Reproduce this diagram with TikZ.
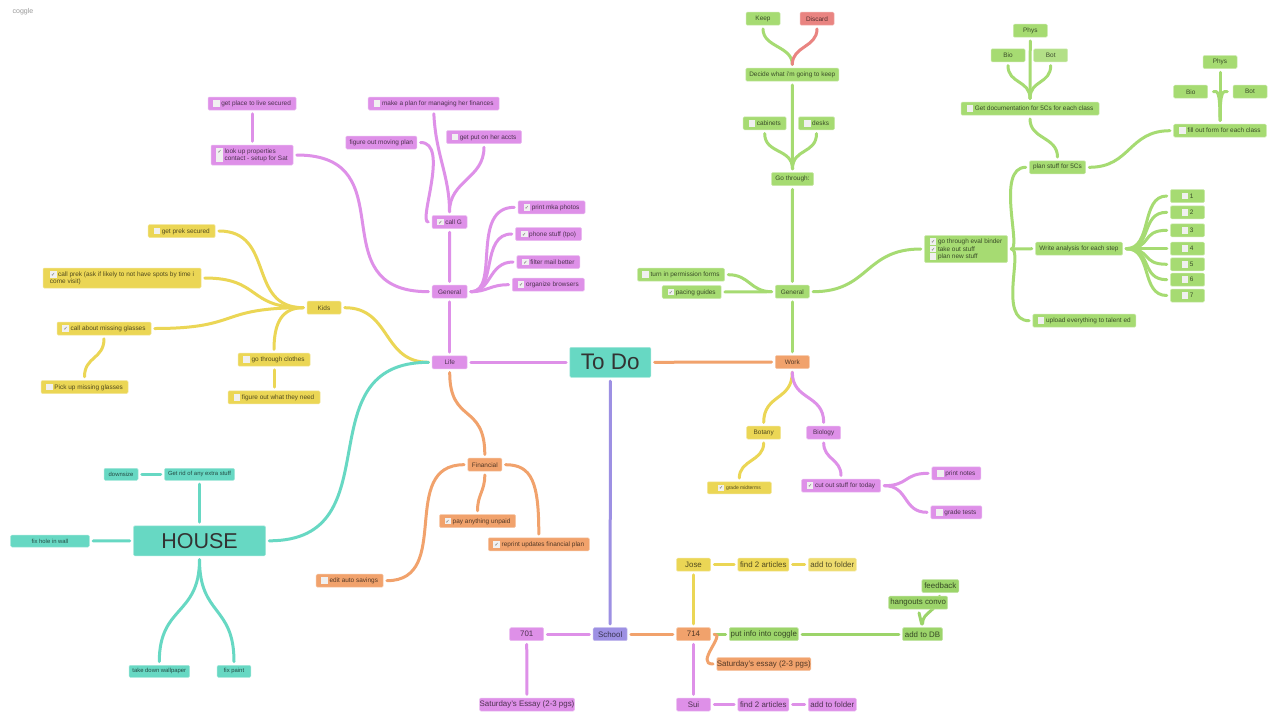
\documentclass[tikz,border=0pt]{standalone}
\usepackage{fontspec}
\setmainfont{Liberation Sans}
\newfontfamily\djv{DejaVu Sans}
\usetikzlibrary{backgrounds}
\definecolor{pur}{HTML}{DE90E8}
\definecolor{yel}{HTML}{EBD655}
\definecolor{tea}{HTML}{67D8C3}
\definecolor{grn}{HTML}{A6DB72}
\definecolor{gdk}{HTML}{9CD46A}
\definecolor{org}{HTML}{F1A26C}
\definecolor{blu}{HTML}{9D90E3}
\definecolor{red1}{HTML}{E98481}
\definecolor{boxc}{HTML}{F0F0F0}
\newcommand{\cku}{\textcolor{boxc}{\rule[-1.2pt]{6.6pt}{6.6pt}}\kern1.6pt}
\newcommand{\ckd}{\rlap{\textcolor{boxc}{\rule[-1.2pt]{6.6pt}{6.6pt}}}\makebox[6.6pt]{\djv\fontsize{5}{5}\selectfont\textcolor{black!65}{✓}}\kern1.6pt}
\tikzset{
 nd/.style={fill=#1,draw=#1!60!white,line width=.5pt,rounded corners=1.2pt,minimum height=13pt,inner sep=0pt,text=#1!35!black,font=\fontsize{6.45}{7.3}\selectfont},
 sm/.style={nd=#1,minimum height=12pt,font=\fontsize{5.9}{7}\selectfont},
 big/.style={nd=#1,font=\fontsize{7.9}{9}\selectfont},
 hub/.style={nd=#1,minimum height=30pt,font=\fontsize{21.5}{24}\selectfont,text=black!80},
 cn/.style={draw=#1,line width=3pt,line cap=round,shorten >=3.5pt,shorten <=3.5pt},
}
\begin{document}
\begin{tikzpicture}[x=1pt,y=-1pt]
\useasboundingbox (0,0) rectangle (1280,726);
\node[text=black!40,font=\fontsize{7}{8}\selectfont] (logo) at (23,11.5) {coggle};
% hubs
\node[hub=tea,minimum width=81pt,font=\fontsize{22.5}{24}\selectfont] (todo) at (610.3,362.3) {To Do};
\node[hub=tea,minimum width=132pt] (house) at (199.5,540.8) {HOUSE};
% life branch
\node[nd=pur,minimum width=35pt] (life) at (449.7,362.3) {Life};
\node[nd=pur,minimum width=35pt] (gen) at (449.7,291.7) {General};
\node[nd=pur,minimum width=35pt] (callg) at (449.5,222) {\ckd call G};
\node[nd=pur,minimum width=131pt] (makeplan) at (433.7,103.5) {\cku make a plan for managing her finances};
\node[nd=pur,minimum width=75pt] (getput) at (484,137) {\cku get put on her accts};
\node[nd=pur,minimum width=71pt] (moving) at (381.3,142.5) {figure out moving plan};
\node[nd=pur,minimum width=88pt] (getplace) at (252,103.5) {\cku get place to live secured};
\node[nd=pur,minimum width=82pt,minimum height=20pt,align=left] (lookup) at (252,155) {\ckd look up properties\\\cku contact - setup for Sat};
\node[nd=pur,minimum width=67pt] (printmka) at (551.5,207.3) {\ckd print mka photos};
\node[nd=pur,minimum width=66pt] (phone) at (548.5,234) {\ckd phone stuff (tpo)};
\node[nd=pur,minimum width=63pt] (filter) at (548.3,262) {\ckd filter mail better};
\node[nd=pur,minimum width=72pt] (organize) at (548.3,284.7) {\ckd organize browsers};
% kids
\node[nd=yel,minimum width=34pt] (kids) at (324,307.7) {Kids};
\node[nd=yel,minimum width=67pt] (getprek) at (181.7,231) {\cku get prek secured};
\node[nd=yel,minimum width=158pt,minimum height=20pt,align=left] (callprek) at (122,278) {\ckd call prek (ask if likely to not have spots by time i\\come visit)};
\node[nd=yel,minimum width=94pt] (callabout) at (104,328.5) {\ckd call about missing glasses};
\node[nd=yel,minimum width=87pt] (pickup) at (84.5,387) {\cku Pick up missing glasses};
\node[nd=yel,minimum width=72pt] (clothes) at (274,359.7) {\cku go through clothes};
\node[nd=yel,minimum width=92pt] (figure) at (274,397.3) {\cku figure out what they need};
% financial
\node[nd=org,minimum width=34pt] (fin) at (484.8,464.7) {Financial};
\node[nd=org,minimum width=76pt] (pay) at (477.5,521) {\ckd pay anything unpaid};
\node[nd=org,minimum width=101pt] (reprint) at (538.8,544.3) {\ckd reprint updates financial plan};
\node[nd=org,minimum width=67pt] (edit) at (349.7,580.7) {\cku edit auto savings};
% house
\node[sm=tea,minimum width=34pt] (downsize) at (121,474.3) {downsize};
\node[sm=tea,minimum width=70pt] (getrid) at (199.5,474.3) {Get rid of any extra stuff};
\node[sm=tea,minimum width=78.6pt] (fixhole) at (50,541) {fix hole in wall};
\node[sm=tea,minimum width=60.6pt] (takedown) at (159.3,671.3) {take down wallpaper};
\node[sm=tea,minimum width=33.7pt] (fixpaint) at (234,671.3) {fix paint};
% work
\node[nd=org,minimum width=34pt] (work) at (792.3,362) {Work};
\node[nd=grn,minimum width=34pt] (gen2) at (792.3,291.7) {General};
\node[nd=grn,minimum width=42pt] (gothru) at (792.5,179) {Go through:};
\node[nd=grn,minimum width=93pt] (decide) at (792.3,74.7) {Decide what i'm going to keep};
\node[nd=grn,minimum width=34pt] (keep) at (763,18.7) {Keep};
\node[nd=red1,minimum width=34pt] (discard) at (817,18.7) {Discard};
\node[nd=grn,minimum width=43pt] (cabinets) at (764.7,123.3) {\cku cabinets};
\node[nd=grn,minimum width=36pt] (desks) at (816.5,123.3) {\cku desks};
\node[nd=grn,minimum width=87pt] (turnin) at (681,274.7) {\cku turn in permission forms};
\node[nd=grn,minimum width=59pt] (pacing) at (691.7,292) {\ckd pacing guides};
\node[nd=grn,minimum width=83pt,minimum height=27pt,align=left] (binder) at (966,249) {\ckd go through eval binder\\\ckd take out stuff\\\cku plan new stuff};
\node[nd=grn,minimum width=56pt] (plan) at (1057.5,167.3) {plan stuff for 5Cs};
\node[nd=grn,minimum width=87pt] (write) at (1079,248.7) {Write analysis for each step};
\node[nd=grn,minimum width=103pt] (upload) at (1084.3,320.7) {\cku upload everything to talent ed};
\node[nd=grn,minimum width=138pt] (getdoc) at (1030,108.7) {\cku Get documentation for 5Cs for each class};
\node[nd=grn,minimum width=34pt] (physa) at (1030.3,30.7) {Phys};
\node[nd=grn,minimum width=34pt] (bioa) at (1008,55.3) {Bio};
\node[nd=grn!85!white,minimum width=34pt] (bota) at (1050.7,55.3) {Bot};
\node[nd=grn,minimum width=34pt] (physb) at (1220,62) {Phys};
\node[nd=grn,minimum width=34pt] (biob) at (1190.7,91.7) {Bio};
\node[nd=grn,minimum width=34pt] (botb) at (1250,91.7) {Bot};
\node[nd=grn,minimum width=92.6pt] (fillout) at (1220,130.7) {\cku fill out form for each class};
\node[nd=grn,minimum width=34pt] (na) at (1187.5,196) {\cku 1};
\node[nd=grn,minimum width=34pt] (nb) at (1187.5,212.3) {\cku 2};
\node[nd=grn,minimum width=34pt] (nc) at (1187.5,230.3) {\cku 3};
\node[nd=grn,minimum width=34pt] (nd4) at (1187.5,248.7) {\cku 4};
\node[nd=grn,minimum width=34pt] (ne) at (1187.5,264.3) {\cku 5};
\node[nd=grn,minimum width=34pt] (nf) at (1187.5,279.7) {\cku 6};
\node[nd=grn,minimum width=34pt] (ng) at (1187.5,295.5) {\cku 7};
\node[nd=yel,minimum width=34pt] (botany) at (763.7,432.7) {Botany};
\node[nd=pur,minimum width=34pt] (biology) at (823.7,432.7) {Biology};
\node[sm=yel,minimum width=64pt,font=\fontsize{5}{6}\selectfont] (midterm) at (739.3,487.8) {\ckd grade midterms};
\node[nd=pur,minimum width=79pt] (cutout) at (841,485.7) {\ckd cut out stuff for today};
\node[nd=pur,minimum width=49pt] (notes) at (956.3,473.3) {\cku print notes};
\node[nd=pur,minimum width=51pt] (tests) at (956.3,512.3) {\cku grade tests};
% school
\node[big=blu,minimum width=34pt] (school) at (610.2,634.2) {School};
\node[big=pur,minimum width=34pt] (sev) at (526.7,634.2) {701};
\node[big=pur,minimum width=95pt] (essay) at (527,704.5) {Saturday's Essay (2-3 pgs)};
\node[big=org,minimum width=34pt] (sf) at (693.5,634.2) {714};
\node[big=yel,minimum width=34pt] (jose) at (693.5,564.7) {Jose};
\node[big=yel,minimum width=51pt] (finda) at (763.3,564.7) {find 2 articles};
\node[big=yel!85!white,minimum width=48pt] (adda) at (832.3,564.7) {add to folder};
\node[big=gdk,minimum width=69pt] (putinfo) at (763.8,634.2) {put info into coggle};
\node[big=gdk,minimum width=40pt] (adddb) at (922.5,634.2) {add to DB};
\node[big=gdk,minimum width=59pt] (hangouts) at (918.2,602.7) {hangouts convo};
\node[big=gdk,minimum width=37pt] (feedback) at (940.3,586) {feedback};
\node[big=org,minimum width=94pt] (satessay) at (763.8,664) {Saturday's essay (2-3 pgs)};
\node[big=pur,minimum width=34pt] (sui) at (693.5,704.5) {Sui};
\node[big=pur,minimum width=51pt] (findb) at (763.3,704.5) {find 2 articles};
\node[big=pur,minimum width=48pt] (addb) at (832.3,704.5) {add to folder};
% connectors
\begin{scope}[on background layer]
\fill[white] (0,0) rectangle (1280,726);
\draw[cn=pur] (todo.west) -- (life.east);
\draw[cn=org] (todo.east) -- (work.west);
\draw[cn=blu] (todo.south) -- (school.north);
\draw[cn=pur] (life.north) -- (gen.south);
\draw[cn=pur] (gen.north) -- (callg.south);
\draw[cn=pur] (callg.north) .. controls +(0,-40) and +(2,45) .. (makeplan.south);
\draw[cn=pur] (callg.north) .. controls +(0,-35) and +(0,35) .. (getput.south);
\draw[cn=pur] (callg.west) .. controls +(-14,0) and +(33,0) .. (moving.east);
\draw[cn=pur] (gen.west) .. controls +(-115,0) and +(115,0) .. (lookup.east);
\draw[cn=pur] (lookup.north) -- (getplace.south);
\draw[cn=pur] (gen.east) .. controls +(33,0) and +(-48,0) .. (printmka.west);
\draw[cn=pur] (gen.east) .. controls +(30,0) and +(-35,0) .. (phone.west);
\draw[cn=pur] (gen.east) .. controls +(24,0) and +(-28,0) .. (filter.west);
\draw[cn=pur] (gen.east) .. controls +(20,0) and +(-22,0) .. (organize.west);
\draw[cn=yel] (life.west) .. controls +(-50,0) and +(50,0) .. (kids.east);
\draw[cn=yel] (kids.west) .. controls +(-60,0) and +(60,0) .. (getprek.east);
\draw[cn=yel] (kids.west) .. controls +(-60,0) and +(60,0) .. (callprek.east);
\draw[cn=yel] (kids.west) .. controls +(-90,0) and +(90,0) .. (callabout.east);
\draw[cn=yel] (kids.west) .. controls +(-25,0) and +(0,-30) .. (clothes.north);
\draw[cn=yel] (clothes.south) -- (figure.north);
\draw[cn=yel] (callabout.south) .. controls +(0,24) and +(0,-24) .. (pickup.north);
\draw[cn=org] (life.south) .. controls +(0,55) and +(0,-55) .. (fin.north);
\draw[cn=org] (fin.south) .. controls +(0,20) and +(0,-20) .. (pay.north);
\draw[cn=org] (fin.east) .. controls +(30,0) and +(0,-55) .. (reprint.north);
\draw[cn=org] (fin.west) .. controls +(-70,0) and +(70,0) .. (edit.east);
\draw[cn=tea] (life.west) .. controls +(-130,0) and +(130,0) .. (house.east);
\draw[cn=tea] (house.north) -- (getrid.south);
\draw[cn=tea] (getrid.west) -- (downsize.east);
\draw[cn=tea] (house.west) -- (fixhole.east);
\draw[cn=tea] (house.south) .. controls +(0,60) and +(0,-60) .. (takedown.north);
\draw[cn=tea] (house.south) .. controls +(0,60) and +(0,-60) .. (fixpaint.north);
\draw[cn=grn] (work.north) -- (gen2.south);
\draw[cn=grn] (gen2.north) -- (gothru.south);
\draw[cn=grn] (gothru.north) -- (decide.south);
\draw[cn=grn] (decide.north) .. controls +(0,-22) and +(0,22) .. (keep.south);
\draw[cn=red1] (decide.north) .. controls +(0,-22) and +(0,22) .. (discard.south);
\draw[cn=grn] (gothru.north) .. controls +(0,-24) and +(0,24) .. (cabinets.south);
\draw[cn=grn] (gothru.north) .. controls +(0,-24) and +(0,24) .. (desks.south);
\draw[cn=grn] (gen2.west) .. controls +(-25,0) and +(25,0) .. (turnin.east);
\draw[cn=grn] (gen2.west) -- (pacing.east);
\draw[cn=grn] (gen2.east) .. controls +(60,0) and +(-60,0) .. (binder.west);
\draw[cn=grn] (binder.east) .. controls +(14,0) and +(-34,0) .. (plan.west);
\draw[cn=grn] (binder.east) .. controls +(16,0) and +(-35,0) .. (upload.west);
\draw[cn=grn] (binder.east) -- (write.west);
\draw[cn=grn] (plan.north) .. controls +(0,-24) and +(0,24) .. (getdoc.south);
\draw[cn=grn] (getdoc.north) -- (physa.south);
\draw[cn=grn] (getdoc.north) .. controls +(0,-22) and +(0,22) .. (bioa.south);
\draw[cn=grn] (getdoc.north) .. controls +(0,-22) and +(0,22) .. (bota.south);
\draw[cn=grn] (plan.east) .. controls +(45,0) and +(-45,0) .. (fillout.west);
\draw[cn=grn] (fillout.north) -- (physb.south);
\draw[cn=grn,shorten >=5.5pt] (fillout.north) .. controls +(0,-36) and +(9,0) .. (biob.east);
\draw[cn=grn,shorten >=5.5pt] (fillout.north) .. controls +(0,-36) and +(-9,0) .. (botb.west);
\draw[cn=grn] (write.east) .. controls +(30,0) and +(-30,0) .. (na.west);
\draw[cn=grn] (write.east) .. controls +(30,0) and +(-30,0) .. (nb.west);
\draw[cn=grn] (write.east) .. controls +(30,0) and +(-30,0) .. (nc.west);
\draw[cn=grn] (write.east) -- (nd4.west);
\draw[cn=grn] (write.east) .. controls +(30,0) and +(-30,0) .. (ne.west);
\draw[cn=grn] (write.east) .. controls +(30,0) and +(-30,0) .. (nf.west);
\draw[cn=grn] (write.east) .. controls +(30,0) and +(-30,0) .. (ng.west);
\draw[cn=yel] (work.south) .. controls +(0,32) and +(0,-32) .. (botany.north);
\draw[cn=pur] (work.south) .. controls +(0,32) and +(0,-32) .. (biology.north);
\draw[cn=yel] (botany.south) .. controls +(0,22) and +(0,-22) .. (midterm.north);
\draw[cn=pur] (biology.south) .. controls +(0,20) and +(0,-20) .. (cutout.north);
\draw[cn=pur] (cutout.east) .. controls +(28,0) and +(-28,0) .. (notes.west);
\draw[cn=pur] (cutout.east) .. controls +(28,0) and +(-28,0) .. (tests.west);
\draw[cn=pur] (school.west) -- (sev.east);
\draw[cn=org] (school.east) -- (sf.west);
\draw[cn=pur] (sev.south) -- (essay.north);
\draw[cn=yel] (sf.north) -- (jose.south);
\draw[cn=pur] (sf.south) -- (sui.north);
\draw[cn=yel] (jose.east) -- (finda.west);
\draw[cn=yel] (finda.east) -- (adda.west);
\draw[cn=pur] (sui.east) -- (findb.west);
\draw[cn=pur] (findb.east) -- (addb.west);
\draw[cn=gdk] (sf.east) -- (putinfo.west);
\draw[cn=gdk] (putinfo.east) -- (adddb.west);
\draw[cn=gdk] (adddb.north) -- (hangouts.south);
\draw[cn=gdk] (adddb.north) .. controls +(0,-16) and +(-4,20) .. (feedback.south);
\draw[cn=org] (sf.east) .. controls +(15,0) and +(-22,0) .. (satessay.west);
\end{scope}
\end{tikzpicture}
\end{document}
